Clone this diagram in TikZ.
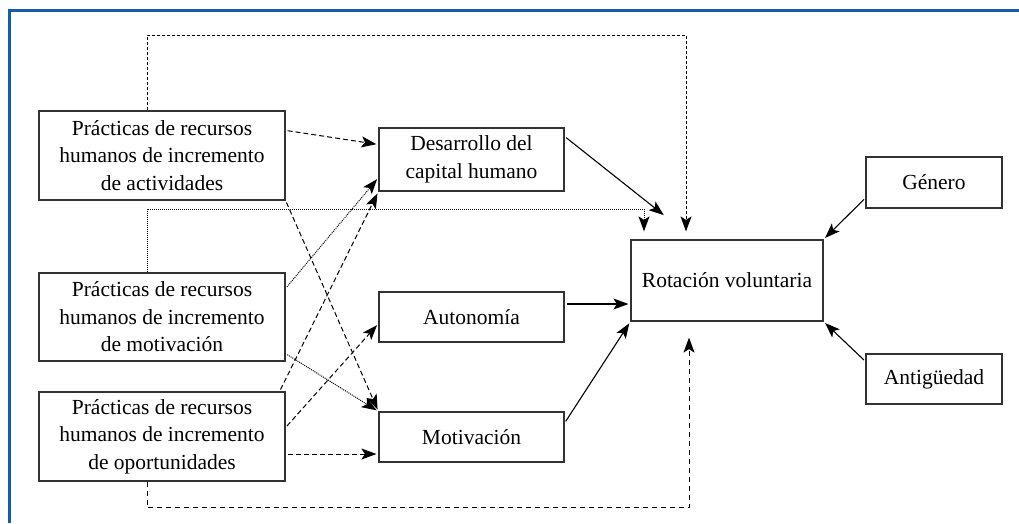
\documentclass[tikz,border=0pt]{standalone}
\usepackage{fontspec}
\setmainfont{Liberation Serif}
\usetikzlibrary{arrows.meta}
\definecolor{frameblue}{RGB}{22,92,170}
\definecolor{boxgray}{RGB}{50,50,50}

\begin{document}
\begin{tikzpicture}[x=1pt, y=-1pt]
\tikzset{ arr/.style={-{Stealth[length=15pt,width=11pt,inset=3.5pt]}},
  box/.style={draw=boxgray, line width=1.2pt, align=center, inner sep=0pt, font=\fontsize{21.5}{27.5}\selectfont},
  dashln/.style={arr, line width=1pt, dash pattern=on 5pt off 3pt, shorten <=2pt, shorten >=2pt},
  dashsh/.style={arr, line width=1pt, dash pattern=on 3pt off 2pt},
  dotln/.style={arr, line width=1pt, densely dotted, shorten <=2pt, shorten >=2pt},
  solln/.style={arr, line width=1.1pt, shorten <=2pt, shorten >=2pt},
}

\useasboundingbox (0,0) rectangle (1019,523);
%\draw [lightgray, dashed](0,0) grid[step=50] (1019,523);

\draw [frameblue, line width=3pt] (9.5,523) -- (9.5,10) -- (1019,10);

\node [box, minimum width=246pt, minimum height=89pt] (pa) at (162,155.5) {Prácticas de recursos\\humanos de incremento\\de actividades};
\node [box, minimum width=246pt, minimum height=88pt] (pm) at (162,317) {Prácticas de recursos\\humanos de incremento\\de motivación};
\node [box, minimum width=246pt, minimum height=89pt] (po) at (162,436.5) {Prácticas de recursos\\humanos de incremento\\de oportunidades};

\node [box, minimum width=185pt, minimum height=63pt] (dch) at (471.5,159.5) {Desarrollo del\\capital humano};
\node [box, minimum width=185pt, minimum height=50pt] (aut) at (471.5,317) {Autonomía};
\node [box, minimum width=185pt, minimum height=50pt] (mot) at (471.5,437) {Motivación};

\node [box, minimum width=192pt, minimum height=81pt] (rot) at (727,280.5) {Rotación voluntaria};
\node [box, minimum width=136pt, minimum height=51pt] (gen) at (934,182.5) {Género};
\node [box, minimum width=136pt, minimum height=50pt] (ant) at (934,379) {Antigüedad};

% loops to rotacion
\draw [dashsh, shorten >=8pt] ([xshift=-15pt]pa.north) -- ++(0,-75) -| ([xshift=-41pt]rot.north);
\draw [arr, line width=1pt, densely dotted, shorten >=8pt] ([xshift=-15pt]pm.north) -- ++(0,-63) -| ([xshift=-83pt]rot.north);
\draw [arr, line width=1pt, dash pattern=on 5pt off 4pt, shorten >=16pt] ([xshift=-15pt]po.south) -- ++(0,26) -| ([xshift=-38pt]rot.south);

% practicas to mediators
\draw [dashln] ([yshift=-20pt]pa.north east) -- ([yshift=15pt]dch.west);
\draw [dashln] (pa.south east) -- (mot.north west);
\draw [dotln] ([yshift=-16pt]pm.north east) -- ([yshift=14pt]dch.south west);
\draw [dotln] ([yshift=8pt]pm.south east) -- (mot.north west);
\draw [dashln] ([xshift=-6pt]po.north east) -- (dch.south west);
\draw [dashln] ([yshift=9pt]po.east) -- ([yshift=19pt]aut.south west);
\draw [dashln] ([yshift=-17.5pt]po.east) -- ([yshift=-17pt]mot.west);

% mediators and controls to rotacion
\draw [solln] ([yshift=-9pt]dch.north east) -- ([xshift=35pt,yshift=23pt]rot.north west);
\draw [solln] ([yshift=13pt]aut.east) -- ([yshift=-23.5pt]rot.west);
\draw [solln] ([yshift=14pt]mot.east) -- (rot.south west);
\draw [solln] ([yshift=-15.5pt]gen.west) -- (rot.north east);
\draw [solln] ([yshift=-8pt]ant.north west) -- (rot.south east);
\end{tikzpicture}
\end{document}
